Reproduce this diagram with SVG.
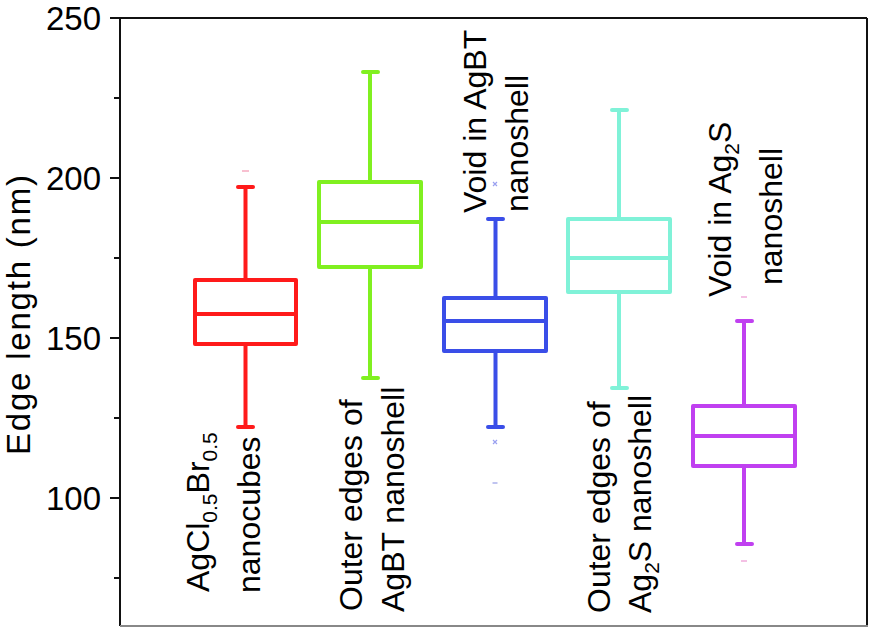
<svg xmlns="http://www.w3.org/2000/svg" width="875" height="631" viewBox="0 0 875 631">
<style>
text{font-family:"Liberation Sans",Arial,sans-serif;fill:#000}
.tick{font-size:33px;text-anchor:end}
.lab{font-size:32px}
.sub{font-size:21px}
.ax{stroke:#111;stroke-width:2;fill:none}
.bx{fill:none;stroke-width:4;stroke-linejoin:round}
.wh{stroke-width:4;fill:none;stroke-linecap:round}
</style>
<rect width="875" height="631" fill="#fff"/>
<g id="axes">
<line class="ax" x1="120" y1="18" x2="867" y2="18"/>
<line class="ax" x1="867" y1="18" x2="867" y2="626"/>
<line class="ax" x1="120" y1="18" x2="120" y2="626"/>
<line x1="120" y1="626" x2="868" y2="626" stroke="#888" stroke-width="2"/>
<path class="ax" d="M110 18H120M110 178H120M110 338H120M110 498H120M114 98H120M114 258H120M114 418H120M114 578H120"/>
<text class="tick" x="101" y="30">250</text>
<text class="tick" x="101" y="190">200</text>
<text class="tick" x="101" y="350">150</text>
<text class="tick" x="101" y="510">100</text>
<text transform="translate(30,455) rotate(-90)" style="font-size:33px" textLength="280" lengthAdjust="spacing">Edge length (nm)</text>
</g>
<g id="box-agclbr" stroke="#ff1a1a">
<path class="wh" d="M245.5 280V187M245.5 344V427M238 187H253M238 427H253"/>
<rect class="bx" x="195" y="280" width="101" height="64"/>
<line class="bx" x1="195" y1="314" x2="296" y2="314"/>
<line x1="242" y1="171" x2="249" y2="171" stroke="#f8c0d0" stroke-width="2"/>
</g>
<g id="box-outer-agbt" stroke="#80f020">
<path class="wh" d="M370 182V72M370 267V378M363 72H378M363 378H378"/>
<rect class="bx" x="319" y="182" width="102" height="85"/>
<line class="bx" x1="319" y1="222" x2="421" y2="222"/>
</g>
<g id="box-void-agbt" stroke="#3a4ee8">
<path class="wh" d="M495.5 298V219M495.5 351V427M488 219H503M488 427H503"/>
<rect class="bx" x="444" y="298" width="102" height="53"/>
<line class="bx" x1="444" y1="321" x2="546" y2="321"/>
<path d="M493 182L497 186M497 182L493 186M493 440L497 444M497 440L493 444" stroke="#9aa0f0" stroke-width="1.2"/>
<line x1="492.5" y1="483" x2="497.5" y2="483" stroke="#c0c4f0" stroke-width="2"/>
</g>
<g id="box-outer-ag2s" stroke="#80f2d8">
<path class="wh" d="M619 219V110M619 292V388M612 110H627M612 388H627"/>
<rect class="bx" x="568" y="219" width="102" height="73"/>
<line class="bx" x1="568" y1="258" x2="670" y2="258"/>
</g>
<g id="box-void-ag2s" stroke="#c040f0">
<path class="wh" d="M744 406V321M744 466V544M737 321H752M737 544H752"/>
<rect class="bx" x="693" y="406" width="102" height="60"/>
<line class="bx" x1="693" y1="436" x2="795" y2="436"/>
<path d="M741 297H747M741 561H747" stroke="#f4c0e4" stroke-width="2"/>
</g>
<g id="labels" class="lab">
<text class="lab" transform="translate(209,592) rotate(-90)">AgCl<tspan class="sub" dy="8">0.5</tspan><tspan dy="-8">Br</tspan><tspan class="sub" dy="8">0.5</tspan></text>
<text class="lab" transform="translate(260,593) rotate(-90)">nanocubes</text>
<text class="lab" transform="translate(362,611) rotate(-90)">Outer edges of</text>
<text class="lab" transform="translate(404,612) rotate(-90)">AgBT nanoshell</text>
<text class="lab" transform="translate(486,213) rotate(-90)">Void in AgBT</text>
<text class="lab" transform="translate(528,212) rotate(-90)">nanoshell</text>
<text class="lab" transform="translate(610,613) rotate(-90)">Outer edges of</text>
<text class="lab" transform="translate(651,613) rotate(-90)">Ag<tspan class="sub" dy="8">2</tspan><tspan dy="-8">S nanoshell</tspan></text>
<text class="lab" transform="translate(731,297) rotate(-90)">Void in Ag<tspan class="sub" dy="8">2</tspan><tspan dy="-8">S</tspan></text>
<text class="lab" transform="translate(782,285) rotate(-90)">nanoshell</text>
</g>
</svg>
